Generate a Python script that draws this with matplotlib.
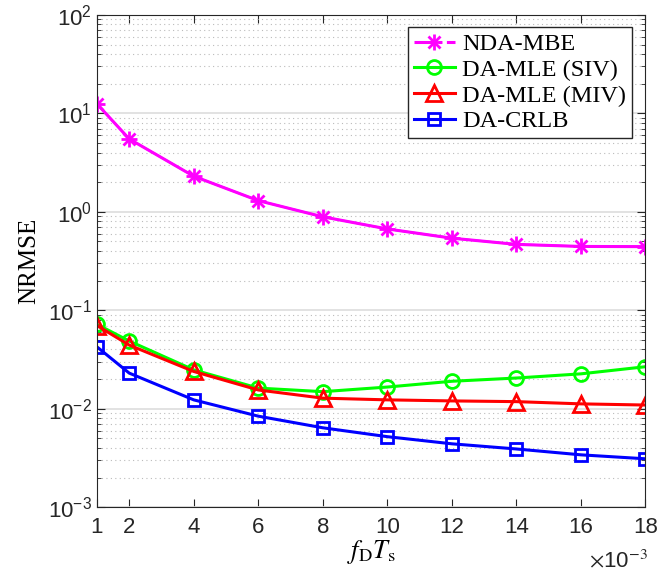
import matplotlib
matplotlib.use('Agg')
import matplotlib.pyplot as plt
from matplotlib.lines import Line2D
from matplotlib.legend_handler import HandlerTuple
from matplotlib.ticker import LogLocator, NullFormatter

# dados (eixo x em unidades de 1e-3)
fdts = [1, 2, 4, 6, 8, 10, 12, 14, 16, 18]
nda_mbe = [12.5, 5.5, 2.3, 1.30, 0.89, 0.67, 0.54, 0.467, 0.445, 0.443]
da_mle_siv = [0.072, 0.0487, 0.0248, 0.0162, 0.0149, 0.0166, 0.019, 0.0205, 0.0226, 0.0267]
da_mle_miv = [0.070, 0.0443, 0.0239, 0.0155, 0.0128, 0.0123, 0.0120, 0.0118, 0.0112, 0.0109]
da_crlb = [0.0425, 0.023, 0.0123, 0.0084, 0.0064, 0.0052, 0.0044, 0.0039, 0.0034, 0.0031]

plt.rcParams['mathtext.fontset'] = 'stix'
plt.rcParams['font.family'] = ['Liberation Sans', 'DejaVu Sans']
plt.rcParams['xtick.direction'] = 'in'
plt.rcParams['ytick.direction'] = 'in'

fig = plt.figure(figsize=(6.64, 5.75), dpi=100)
ax = fig.add_axes([0.146, 0.118, 0.826, 0.856])

lw = 2.2
mag, grn, red, blu = '#FF00FF', '#00FF00', '#FF0000', '#0000FF'

# asterisco estilo MATLAB = '+' sobreposto a 'x'
ax.plot(fdts, nda_mbe, '-', color=mag, lw=lw, marker='+', ms=12, mew=2)
ax.plot(fdts, nda_mbe, 'none', color=mag, marker='x', ms=9, mew=2)
ax.plot(fdts, da_mle_siv, '-', color=grn, lw=lw, marker='o', ms=10, mfc='none', mew=2)
ax.plot(fdts, da_mle_miv, '-', color=red, lw=lw, marker='^', ms=11, mfc='none', mew=2)
ax.plot(fdts, da_crlb, '-', color=blu, lw=lw, marker='s', ms=8, mfc='none', mew=2)

ax.set_yscale('log')
ax.set_ylim(1e-3, 1e2)
ax.set_xlim(1, 18)
ax.set_xticks(fdts)
ax.set_xticklabels([str(v) for v in fdts])
ax.yaxis.set_minor_locator(LogLocator(base=10, subs=range(2, 10), numticks=20))
ax.yaxis.set_minor_formatter(NullFormatter())

ax.grid(True, axis='y', which='major', color='#DDDDDD', lw=1.2)
ax.grid(True, axis='y', which='minor', color='#BBBBBB', lw=0.8, ls=(0, (1, 3)))
ax.tick_params(which='both', top=True, right=True, labelsize=16, colors='#262626')
ax.tick_params(axis='x', pad=7)
ax.tick_params(which='major', length=6)
ax.tick_params(which='minor', length=3)
for s in ax.spines.values():
    s.set_color('#262626')

ax.set_ylabel('NRMSE', fontsize=18, family='Liberation Serif', labelpad=6)
ax.set_xlabel(r'$f_{\mathrm{D}}T_{\mathrm{s}}$', fontsize=19, labelpad=0)
fig.text(0.975, 0.004, r'$\times$10$^{-3}$', ha='right', va='bottom',
         fontsize=16, color='#262626')

# legenda com o traço-ponto do NDA-MBE
h_nda = (Line2D([], [], color=mag, ls='-.', lw=lw, marker='+', ms=12, mew=2),
         Line2D([], [], color=mag, ls='none', marker='x', ms=9, mew=2))
handles = [
    h_nda,
    Line2D([], [], color=grn, lw=lw, marker='o', ms=10, mfc='none', mew=2),
    Line2D([], [], color=red, lw=lw, marker='^', ms=11, mfc='none', mew=2),
    Line2D([], [], color=blu, lw=lw, marker='s', ms=8, mfc='none', mew=2),
]
labels = ['NDA-MBE', 'DA-MLE (SIV)', 'DA-MLE (MIV)', 'DA-CRLB']
leg = ax.legend(handles, labels, loc='upper right', bbox_to_anchor=(0.985, 0.985),
                handler_map={tuple: HandlerTuple(ndivide=1)},
                prop={'family': 'Liberation Serif', 'size': 17.5}, fancybox=False,
                framealpha=1, edgecolor='#262626', handlelength=1.7,
                handletextpad=0.3, borderpad=0.25, labelspacing=0.15,
                borderaxespad=0.2)
leg.get_frame().set_linewidth(1.0)

fig.savefig('out.png', dpi=100)
